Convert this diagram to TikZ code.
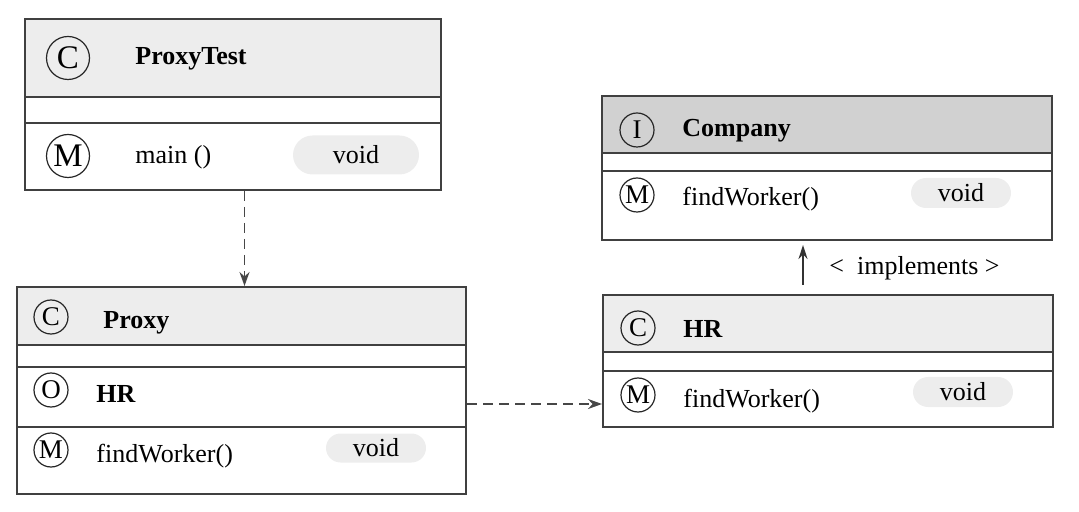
\documentclass[tikz,border=0pt]{standalone}
\usepackage{fontspec}
\setmainfont{Liberation Serif}
\usetikzlibrary{shapes,shapes.geometric,shapes.misc,arrows.meta,fit,calc}

\tikzset{
	part/.style={draw=black!75,line width=1pt,inner sep=0pt},
	lighthead/.style={part,fill=black!7},
	darkhead/.style={part,fill=black!18},
	badge/.style={shape=circle,draw=black!85,line width=0.6pt,inner sep=0pt,
		minimum size=17pt,font=\fontsize{13.5}{13.5}\selectfont},
	bigbadge/.style={badge,minimum size=21.5pt,font=\fontsize{16.5}{16.5}\selectfont},
	label/.style={anchor=west,inner sep=0pt,font=\fontsize{13}{15}\selectfont},
	title/.style={label,font=\fontsize{13}{15}\selectfont\bfseries},
	pill/.style={shape=rounded rectangle,fill=black!7,inner sep=0pt,
		minimum width=50pt,minimum height=14.5pt,font=\fontsize{13}{15}\selectfont},
	dep/.style={draw=black!72,line width=0.9pt,dash pattern=on 5pt off 3pt,
		-{Stealth[length=7pt,width=5pt]}},
	impl/.style={draw=black!80,line width=0.8pt,-{Stealth[length=7pt,width=4.5pt]}}
}

\begin{document}
\begin{tikzpicture}[x=0.5pt,y=-0.5pt]
	\useasboundingbox (0,0) rectangle (1079,512);

	% ProxyTest
	\node[lighthead,fit={(25,19) (441,97)}] (pt-head) {};
	\node[part,fit={(25,97) (441,123)}] (pt-blank) {};
	\node[part,fit={(25,123) (441,190)}] (pt-meth) {};
	\node[bigbadge] (pt-c) at (68,58) {C};
	\node[title] (pt-name) at (135,59) {ProxyTest};
	\node[bigbadge] (pt-m) at (68,156) {M};
	\node[label] (pt-main) at (135,157) {main ()};
	\node[pill,minimum width=63pt,minimum height=19.5pt] (pt-void) at (356,155) {void};

	% Proxy
	\node[lighthead,fit={(17,287) (466,345)}] (px-head) {};
	\node[part,fit={(17,345) (466,367)}] (px-blank) {};
	\node[part,fit={(17,367) (466,427)}] (px-attr) {};
	\node[part,fit={(17,427) (466,494)}] (px-meth) {};
	\node[badge] (px-c) at (51,317) {C};
	\node[title] (px-name) at (103,323) {Proxy};
	\node[badge] (px-o) at (51,390) {O};
	\node[title] (px-hr) at (96,394) {HR};
	\node[badge] (px-m) at (51,450) {M};
	\node[label] (px-find) at (96,456) {findWorker()};
	\node[pill] (px-void) at (376,448) {void};

	% Company
	\node[darkhead,fit={(602,96) (1052,153)}] (co-head) {};
	\node[part,fit={(602,153) (1052,171)}] (co-blank) {};
	\node[part,fit={(602,171) (1052,240)}] (co-meth) {};
	\node[badge] (co-i) at (637,130) {I};
	\node[title] (co-name) at (682,131) {Company};
	\node[badge] (co-m) at (637,195) {M};
	\node[label] (co-find) at (682,199) {findWorker()};
	\node[pill,minimum height=15pt] (co-void) at (961,193) {void};

	% HR
	\node[lighthead,fit={(603,295) (1053,352)}] (hr-head) {};
	\node[part,fit={(603,352) (1053,371)}] (hr-blank) {};
	\node[part,fit={(603,371) (1053,427)}] (hr-meth) {};
	\node[badge] (hr-c) at (638,328) {C};
	\node[title] (hr-name) at (683,329) {HR};
	\node[badge] (hr-m) at (638,395) {M};
	\node[label] (hr-find) at (683,401) {findWorker()};
	\node[pill,minimum height=15pt] (hr-void) at (963,392) {void};

	% connectors
	\draw[dep] ([xshift=1.5pt]pt-meth.south -| px-head.north) -- ([xshift=1.5pt]px-head.north);
	\draw[dep] ([yshift=-3.5pt]px-attr.east) -- ([yshift=-3.5pt]px-attr.east -| hr-meth.west);
	\coordinate (impl-from) at (803,285);
	\coordinate (impl-to) at (803,245);
	\draw[impl] (impl-from) -- (impl-to);
	\node[label] (impl-lbl) at (829,268) {<\ \ implements >};
\end{tikzpicture}
\end{document}
